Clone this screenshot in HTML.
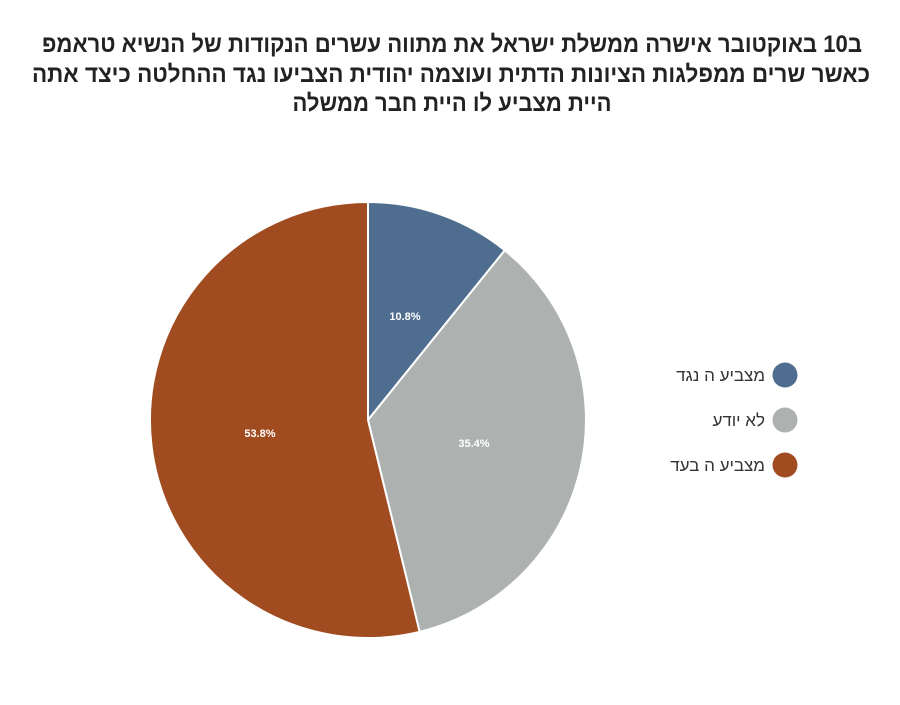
<!DOCTYPE html>
<html><head><meta charset="utf-8"><style>
body{margin:0;background:#fff;width:900px;height:700px;overflow:hidden}
</style></head><body>
<svg width="900" height="700" xmlns="http://www.w3.org/2000/svg">
<g font-family="'Liberation Sans Narrow','Liberation Sans',sans-serif" font-weight="bold" font-size="24" fill="#222" text-anchor="middle" direction="rtl">
<text x="452" y="52" textLength="820" lengthAdjust="spacingAndGlyphs">ב10 באוקטובר אישרה ממשלת ישראל את מתווה עשרים הנקודות של הנשיא טראמפ</text>
<text x="451" y="82" textLength="838" lengthAdjust="spacingAndGlyphs">כאשר שרים ממפלגות הציונות הדתית ועוצמה יהודית הצביעו נגד ההחלטה  כיצד אתה</text>
<text x="452" y="111" textLength="319" lengthAdjust="spacingAndGlyphs">היית מצביע לו היית חבר ממשלה</text>
</g>
<g stroke="#fff" stroke-width="2" stroke-linejoin="round">
<path d="M368,420 L368,202 A218,218 0 0 1 504.8,250.3 Z" fill="#4f6d8f"/>
<path d="M368,420 L504.8,250.3 A218,218 0 0 1 419.6,631.8 Z" fill="#adb2b1"/>
<path d="M368,420 L419.6,631.8 A218,218 0 1 1 368,202 Z" fill="#a04c20"/>
</g>
<g font-family="'Liberation Sans',sans-serif" font-weight="bold" font-size="11" fill="#fff" text-anchor="middle">
<text x="405" y="320">10.8%</text>
<text x="474" y="447">35.4%</text>
<text x="260" y="437">53.8%</text>
</g>
<circle cx="785" cy="375" r="12.5" fill="#4f6d8f"/>
<circle cx="785" cy="420" r="12.5" fill="#adb2b1"/>
<circle cx="785" cy="465" r="12.5" fill="#a04c20"/>
<g font-family="'Liberation Sans',sans-serif" font-size="17" fill="#333" text-anchor="start" direction="rtl">
<text x="765" y="381">מצביע ה נגד</text>
<text x="765" y="426">לא יודע</text>
<text x="765" y="471">מצביע ה בעד</text>
</g>
</svg>
</body></html>
